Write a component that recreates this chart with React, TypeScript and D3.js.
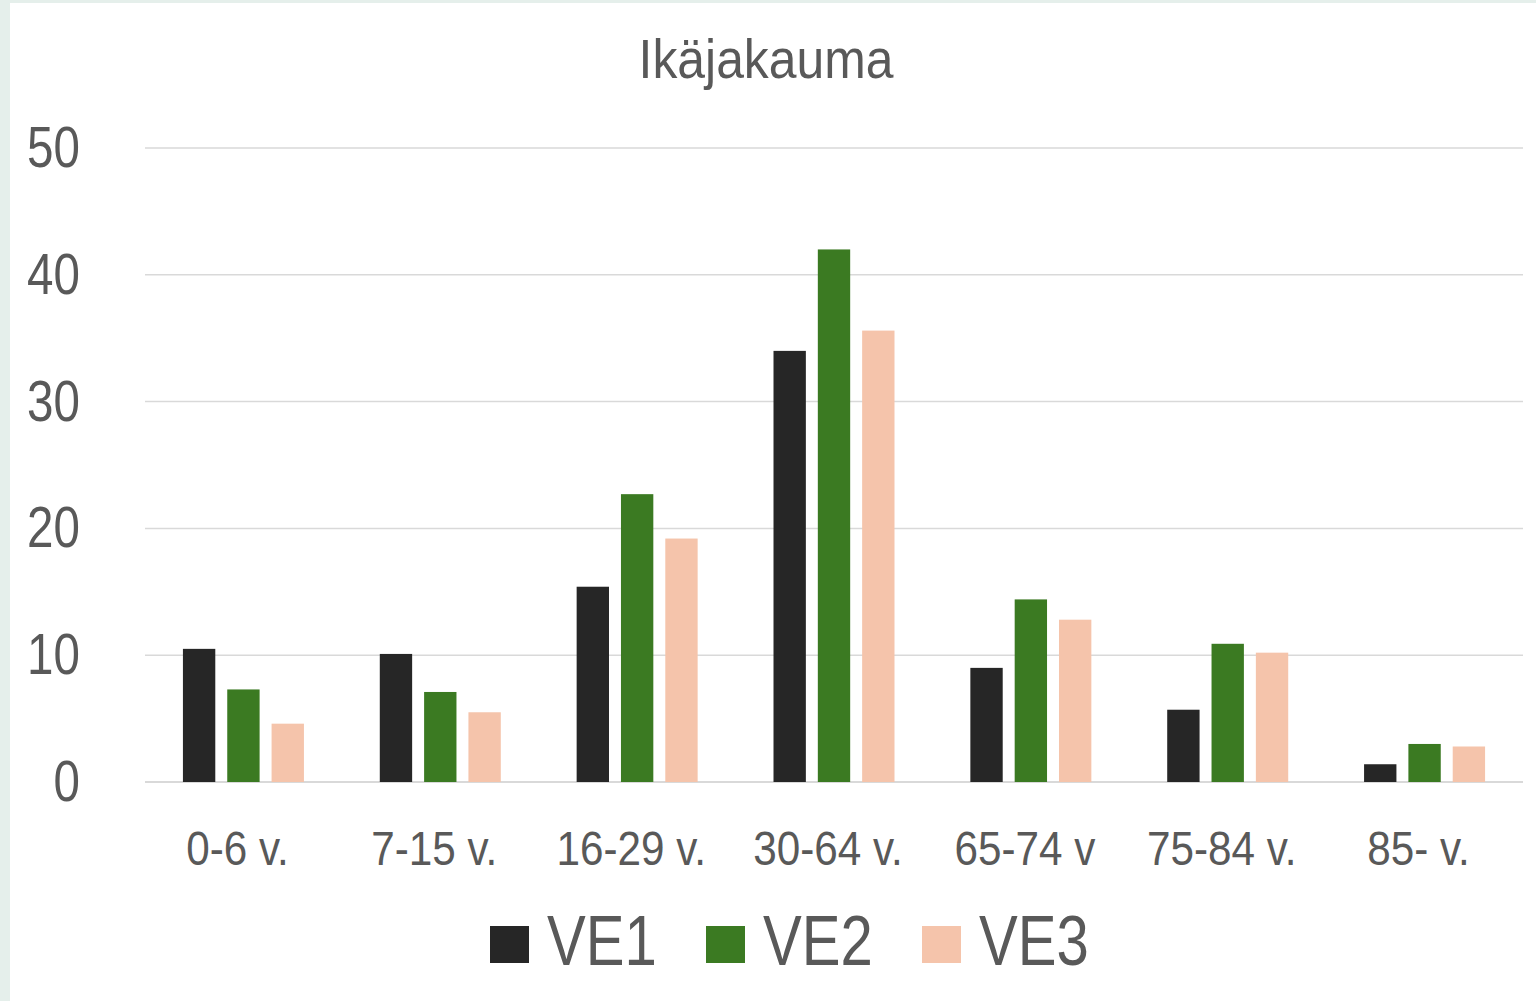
import React from 'react'
import * as d3 from 'd3'

const categories = ['0-6 v.', '7-15 v.', '16-29 v.', '30-64 v.', '65-74 v', '75-84 v.', '85- v.']
const seriesNames = ['VE1', 'VE2', 'VE3']
const ve1 = [10.5, 10.1, 15.4, 34.0, 9.0, 5.7, 1.4]
const ve2 = [7.3, 7.1, 22.7, 42.0, 14.4, 10.9, 3.0]
const ve3 = [4.6, 5.5, 19.2, 35.6, 12.8, 10.2, 2.8]
const yTicks = [0, 10, 20, 30, 40, 50]
const colors = ['#262626', '#3b7a22', '#f5c4ab']

const W = 1536
const H = 1001
const FONT = '"Liberation Sans", Arial, sans-serif'
const GRAY = '#595959'

// narrow text: Liberation Sans squeezed horizontally
function NarrowText({ x, y, size, sx, anchor, children }: { x: number, y: number, size: number, sx: number, anchor: string, children: React.ReactNode }) {
    return (
        <g transform={`translate(${x},${y}) scale(${sx},1)`}>
            <text x={0} y={0} textAnchor={anchor} fontFamily={FONT} fontSize={size} fill={GRAY}>{children}</text>
        </g>
    )
}

export default function App() {
    const plotLeft = 145
    const plotRight = 1523
    const series = [ve1, ve2, ve3]

    const x = d3.scaleBand<string>().domain(categories).range([plotLeft, plotRight]).paddingInner(0).paddingOuter(0)
    const groupWidth = 121
    const xInner = d3.scaleBand<string>().domain(seriesNames).range([0, groupWidth]).paddingInner(0.27)
    const y = d3.scaleLinear().domain([0, 50]).range([782, 148])

    return (
        <svg width={W} height={H} style={{ position: 'absolute', left: 0, top: 0, background: '#fff' }}>
            <rect x={0} y={0} width={W} height={H} fill="#ffffff" />
            <rect x={0} y={0} width={10} height={H} fill="#e5efeb" />
            <rect x={0} y={0} width={W} height={3} fill="#e5efeb" />

            <NarrowText x={766} y={78} size={56} sx={0.89} anchor="middle">Ikäjakauma</NarrowText>

            {yTicks.map(t => (
                <g key={t}>
                    <line x1={plotLeft} x2={plotRight} y1={y(t)} y2={y(t)} stroke="#d9d9d9" strokeWidth={t === 0 ? 2 : 1.5} />
                    <NarrowText x={80} y={y(t) + 19} size={58} sx={0.82} anchor="end">{t}</NarrowText>
                </g>
            ))}

            {categories.map((c, i) => {
                const gx = x(c)! + x.bandwidth() / 2 - groupWidth / 2
                return (
                    <g key={c}>
                        {series.map((s, k) => (
                            <rect key={k}
                                x={gx + xInner(seriesNames[k])!}
                                y={y(s[i])}
                                width={xInner.bandwidth()}
                                height={y(0) - y(s[i])}
                                fill={colors[k]} />
                        ))}
                        <NarrowText x={x(c)! + x.bandwidth() / 2 - 6} y={865} size={48} sx={0.88} anchor="middle">{c}</NarrowText>
                    </g>
                )
            })}

            {seriesNames.map((n, k) => {
                const lx = [490, 706, 922][k]
                return (
                    <g key={n}>
                        <rect x={lx} y={926} width={39} height={37} fill={colors[k]} />
                        <NarrowText x={lx + 57} y={965} size={70} sx={0.83} anchor="start">{n}</NarrowText>
                    </g>
                )
            })}
        </svg>
    )
}
